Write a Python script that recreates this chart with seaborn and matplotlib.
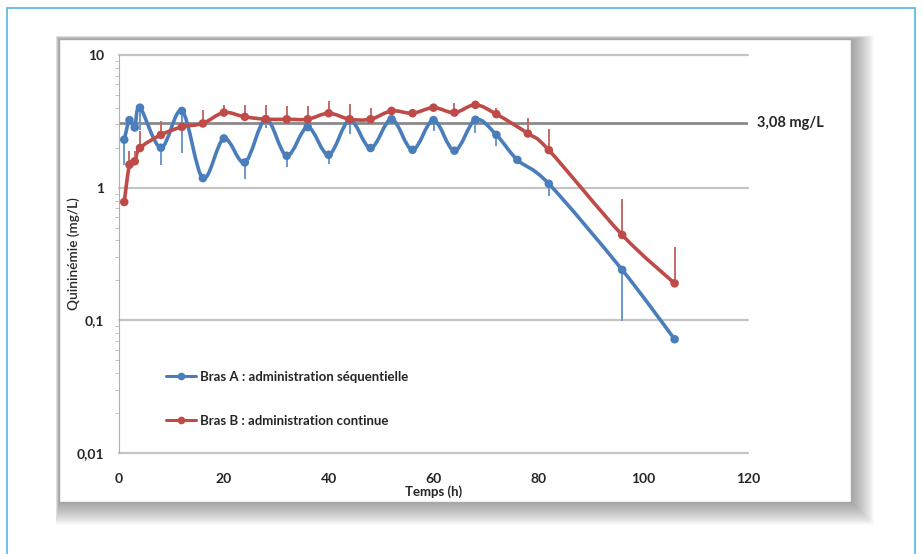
import numpy as np
import pandas as pd
import seaborn as sns
import matplotlib.pyplot as plt
from matplotlib.path import Path
from matplotlib.patches import PathPatch, Rectangle
from matplotlib.lines import Line2D
from matplotlib.ticker import FixedLocator, FixedFormatter, LogLocator, NullFormatter

# Bras A : administration sequentielle
temps_a = [1, 2, 3, 4, 8, 12, 16, 20, 24, 28, 32, 36, 40, 44, 48, 52, 56, 60, 64, 68, 72, 76, 82, 96, 106]
conc_a = [2.30, 3.23, 2.84, 4.01, 2.00, 3.79, 1.18, 2.35, 1.55, 3.28, 1.74, 2.86, 1.77, 3.23, 1.99, 3.28,
          1.93, 3.23, 1.90, 3.25, 2.50, 1.62, 1.07, 0.24, 0.072]
# bas de la barre d'erreur (nan = pas de barre)
bas_a = [1.49, np.nan, np.nan, 2.70, 1.49, 1.84, np.nan, np.nan, 1.16, 2.81, 1.42, np.nan, 1.52, 2.56, np.nan,
         np.nan, np.nan, 2.68, np.nan, 2.60, 2.05, np.nan, 0.87, 0.099, np.nan]

# Bras B : administration continue
temps_b = [1, 2, 3, 4, 8, 12, 16, 20, 24, 28, 32, 36, 40, 44, 48, 52, 56, 60, 64, 68, 72, 78, 82, 96, 106]
conc_b = [0.78, 1.49, 1.58, 1.99, 2.50, 2.87, 3.05, 3.68, 3.42, 3.28, 3.28, 3.28, 3.64, 3.28, 3.28, 3.79,
          3.64, 4.01, 3.68, 4.21, 3.58, 2.56, 1.92, 0.44, 0.19]
# haut de la barre d'erreur
haut_b = [np.nan, 1.90, 1.90, 2.68, 3.19, np.nan, 3.83, 4.21, 4.21, 4.21, 4.14, 4.14, 4.51, 4.26, 4.01,
          np.nan, np.nan, np.nan, 4.38, np.nan, 4.01, 3.34, 2.79, 0.82, 0.356]

seuil = 3.08
labels = ['Bras A : administration séquentielle', 'Bras B : administration continue']
couleurs = ['#4a7ebb', '#be4b48']
couleurs_barres = ['#6d98cc', '#c46a67']


def courbe_lissee(x, y):
    # lissage type Excel (Catmull-Rom -> Bezier) en espace (x, log y)
    lx = np.asarray(x, float)
    ly = np.log10(np.asarray(y, float))
    n = len(lx)
    verts = [(lx[0], ly[0])]
    codes = [Path.MOVETO]
    for i in range(n - 1):
        i0 = max(i - 1, 0)
        i3 = min(i + 2, n - 1)
        c1 = (lx[i] + (lx[i + 1] - lx[i0]) / 6, ly[i] + (ly[i + 1] - ly[i0]) / 6)
        c2 = (lx[i + 1] - (lx[i3] - lx[i]) / 6, ly[i + 1] - (ly[i3] - ly[i]) / 6)
        verts += [c1, c2, (lx[i + 1], ly[i + 1])]
        codes += [Path.CURVE4] * 3
    verts = [(a, 10 ** b) for a, b in verts]
    return Path(verts, codes)


sns.set_style('white')
plt.rcParams['font.family'] = ['Lato', 'DejaVu Sans']

W, H = 922, 554
fig = plt.figure(figsize=(W / 100, H / 100), dpi=100)


def fx(px):
    return px / W


def fy(py):
    return 1 - py / H


# cadre exterieur bleu
fig.patches.append(Rectangle((fx(7), fy(560)), fx(915) - fx(7), fy(8) - fy(560), transform=fig.transFigure,
                             facecolor='white', edgecolor='#55b4e2', lw=1.2, zorder=0))
# ombre du cadre du graphique (surtout a droite et en bas)
for k in range(1, 24):
    fig.patches.append(Rectangle((fx(59 - k * 0.15), fy(502 + k)), fx(851 + k) - fx(59 - k * 0.15),
                                 fy(39 - k * 0.15) - fy(502 + k), transform=fig.transFigure,
                                 facecolor='#404040', edgecolor='none', alpha=0.024, zorder=0.1))
fig.patches.append(Rectangle((fx(59), fy(502)), fx(851) - fx(59), fy(39) - fy(502), transform=fig.transFigure,
                             facecolor='white', edgecolor='#a8a8a8', lw=1.0, zorder=0.2))

ax = fig.add_axes([fx(119), fy(453), fx(748) - fx(119), fy(55) - fy(453)])
ax.set_zorder(1)
ax.patch.set_alpha(0)
ax.set_yscale('log')
ax.set_xlim(0, 120)
ax.set_ylim(0.01, 10)

for v in [0.01, 0.1, 1, 10]:
    ax.axhline(v, color='#c4c4c4', lw=1.6, zorder=1, clip_on=False)
ax.axhline(seuil, color='#8a8a8a', lw=2.0, zorder=1.5)
ax.text(121.8, seuil, '3,08 mg/L', ha='left', va='center', fontsize=10.5, fontweight='bold',
        color='#262626', clip_on=False)

# courbes lissees
for t, c, col, z in [(temps_a, conc_a, couleurs[0], 3), (temps_b, conc_b, couleurs[1], 4)]:
    ax.add_patch(PathPatch(courbe_lissee(t, c), facecolor='none', edgecolor=col, lw=2.6, zorder=z,
                           capstyle='round', joinstyle='round'))

# barres d'erreur (unilaterales)
ax.vlines(temps_a, bas_a, conc_a, color=couleurs_barres[0], lw=1.4, zorder=3.5)
ax.vlines(temps_b, conc_b, haut_b, color=couleurs_barres[1], lw=1.4, zorder=4.5)

df = pd.concat([
    pd.DataFrame({'temps': temps_a, 'conc': conc_a, 'bras': labels[0]}),
    pd.DataFrame({'temps': temps_b, 'conc': conc_b, 'bras': labels[1]}),
])
sns.scatterplot(data=df, x='temps', y='conc', hue='bras', palette=couleurs, s=38, edgecolor='none',
                legend=False, ax=ax, zorder=6)

# axes
sns.despine(ax=ax, top=True, right=True)
ax.spines['left'].set_color('#b0b0b0')
ax.spines['bottom'].set_visible(False)
ax.xaxis.set_major_locator(FixedLocator([0, 20, 40, 60, 80, 100, 120]))
ax.tick_params(axis='x', length=0, pad=14.5, labelsize=10)
ax.yaxis.set_major_locator(FixedLocator([0.01, 0.1, 1, 10]))
ax.yaxis.set_major_formatter(FixedFormatter(['0,01', '0,1', '1', '10']))
ax.yaxis.set_minor_locator(LogLocator(base=10, subs=np.arange(2, 10)))
ax.yaxis.set_minor_formatter(NullFormatter())
ax.tick_params(axis='y', which='major', length=5, color='#a0a0a0', pad=6, labelsize=10)
ax.tick_params(axis='y', which='minor', length=3, color='#b8b8b8', left=True)
for lab in ax.get_xticklabels() + ax.get_yticklabels():
    lab.set_fontweight('bold')
    lab.set_color('#262626')

ax.set_xlabel('Temps (h)', fontsize=9.5, fontweight='bold', color='#262626', labelpad=0)
ax.set_ylabel('Quininémie (mg/L)', fontsize=9.8, fontweight='semibold', color='#262626', labelpad=-2.5)

handles = [Line2D([], [], color=c, lw=2.2, marker='o', markersize=4.5) for c in couleurs]
ax.legend(handles, labels, loc='upper left', bbox_to_anchor=(fx(154), fy(359)), bbox_transform=fig.transFigure,
          frameon=False, prop={'weight': 'bold', 'size': 9.5}, labelspacing=2.4,
          handlelength=2.3, handletextpad=0.3, labelcolor='#262626')

fig.savefig('out.png', dpi=100)
